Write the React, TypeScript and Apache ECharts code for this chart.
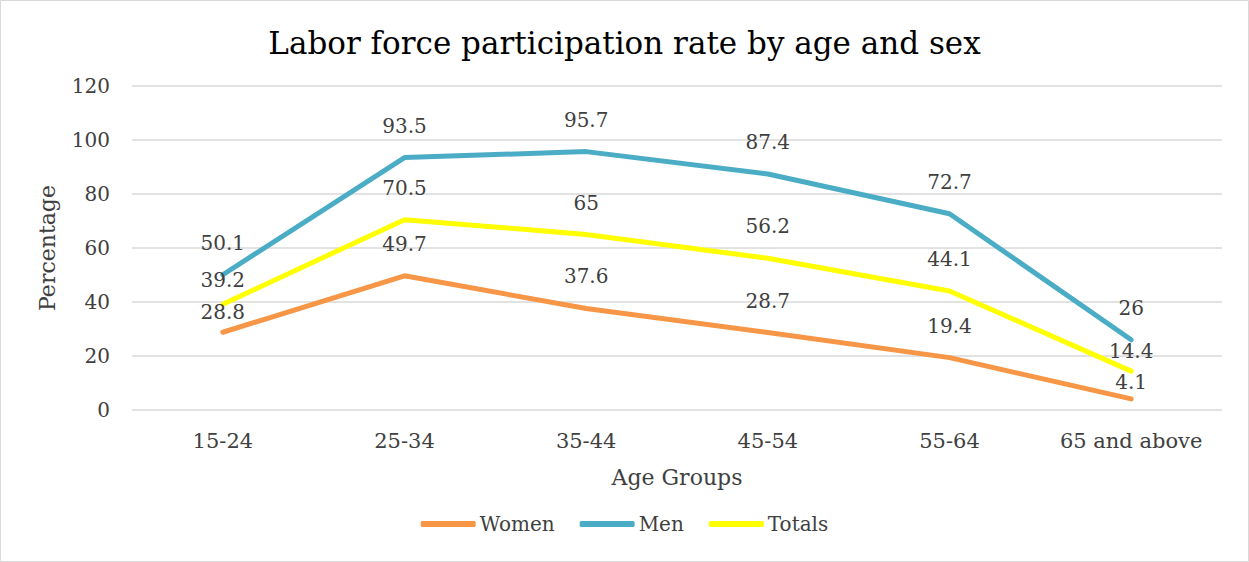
import React, { useEffect, useRef } from "react";
import * as echarts from "echarts";

const categories = ["15-24", "25-34", "35-44", "45-54", "55-64", "65 and above"];
const women = [28.8, 49.7, 37.6, 28.7, 19.4, 4.1];
const men = [50.1, 93.5, 95.7, 87.4, 72.7, 26];
const totals = [39.2, 70.5, 65, 56.2, 44.1, 14.4];
const yTicks = [0, 20, 40, 60, 80, 100, 120];

const SERIF = "'DejaVu Serif', 'Liberation Serif', serif";
const TXT = "#404040";

// per-point label distance (Excel nudges a few overlapping labels)
const womenDist = [10, 22, 22, 22, 22, 7];
const menDist = [22, 22, 22, 22, 22, 22];
const totalsDist = [14, 22, 22, 22, 22, 10];

function mk(name: string, values: number[], color: string, dists: number[]) {
  return {
    name,
    type: "line",
    data: values.map((v, i) => ({ value: v, label: { distance: dists[i] } })),
    symbol: "circle",
    symbolSize: 0,
    showSymbol: true,
    lineStyle: { color, width: 5, cap: "round", join: "round" },
    itemStyle: { color },
    label: {
      show: true,
      position: "top",
      color: TXT,
      fontFamily: SERIF,
      fontSize: 20,
    },
    z: 2,
  };
}

export default function App() {
  const ref = useRef<HTMLDivElement>(null);
  useEffect(() => {
    document.body.style.margin = "0";
    const chart = echarts.init(ref.current!, null, { renderer: "svg" });
    chart.setOption({
      animation: false,
      backgroundColor: "#ffffff",
      title: {
        text: "Labor force participation rate by age and sex",
        left: "center",
        top: 22,
        textStyle: { fontFamily: SERIF, fontSize: 31, fontWeight: "normal", color: "#000000" },
      },
      graphic: [
        {
          type: "rect",
          shape: { x: 0.5, y: 0.5, width: 1248, height: 561 },
          style: { fill: "none", stroke: "#d9d9d9", lineWidth: 1 },
          silent: true,
        },
      ],
      legend: {
        bottom: 23,
        left: "center",
        icon: "roundRect",
        itemWidth: 55,
        itemHeight: 6,
        itemGap: 25,
        data: ["Women", "Men", "Totals"],
        textStyle: { fontFamily: SERIF, fontSize: 20, color: TXT, padding: [0, 0, 0, -1] },
      },
      grid: { left: 132, right: 27, top: 86, bottom: 152 },
      xAxis: {
        type: "category",
        data: categories,
        boundaryGap: true,
        name: "Age Groups",
        nameLocation: "middle",
        nameGap: 56,
        nameTextStyle: { fontFamily: SERIF, fontSize: 22, color: TXT },
        axisLine: { show: false },
        axisTick: { show: false },
        axisLabel: { interval: 0, fontFamily: SERIF, fontSize: 21, color: TXT, margin: 20 },
      },
      yAxis: {
        type: "value",
        min: yTicks[0],
        max: yTicks[yTicks.length - 1],
        interval: 20,
        name: "Percentage",
        nameLocation: "middle",
        nameGap: 74,
        nameTextStyle: { fontFamily: SERIF, fontSize: 22, color: TXT },
        axisLine: { show: false },
        axisTick: { show: false },
        axisLabel: { fontFamily: SERIF, fontSize: 20, color: TXT, margin: 22 },
        splitLine: { lineStyle: { color: "#d9d9d9", width: 1.5 } },
      },
      series: [
        mk("Women", women, "#F79646", womenDist),
        mk("Men", men, "#4BACC6", menDist),
        mk("Totals", totals, "#FFFF00", totalsDist),
      ],
    });
    return () => chart.dispose();
  }, []);
  return <div ref={ref} style={{ width: 1249, height: 562 }} />;
}
